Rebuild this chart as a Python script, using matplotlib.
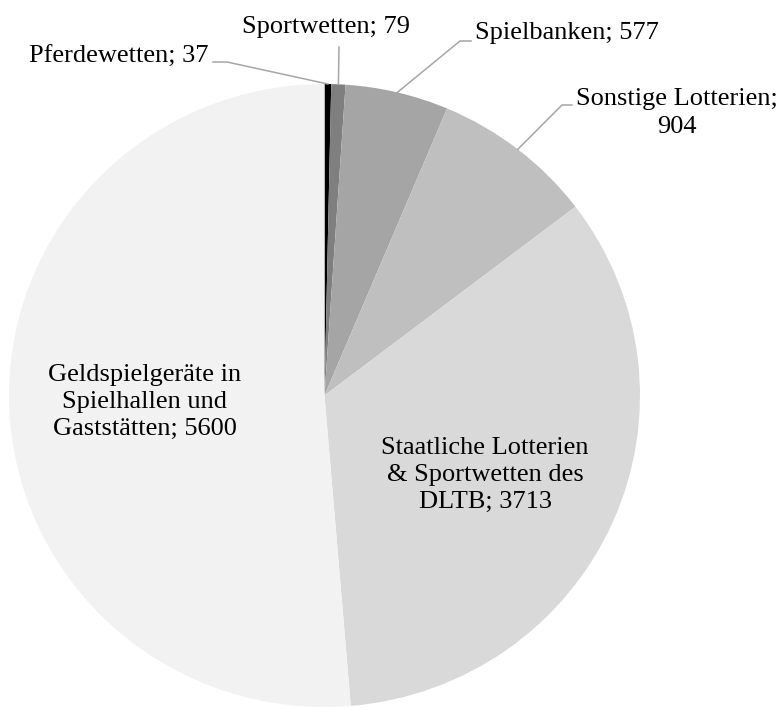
import numpy as np
import matplotlib.pyplot as plt

plt.rcParams['font.family'] = ['Liberation Serif', 'DejaVu Serif']

# Glücksspielmarkt, Bruttospielerträge
categories = ['Pferdewetten', 'Sportwetten', 'Spielbanken', 'Sonstige Lotterien',
              'Staatliche Lotterien\n& Sportwetten des\nDLTB', 'Geldspielgeräte in\nSpielhallen und\nGaststätten']
values = [37, 79, 577, 904, 3713, 5600]
colors = ['#000000', '#7f7f7f', '#a5a5a5', '#bfbfbf', '#d9d9d9', '#f2f2f2']

W, H = 781, 708
fig = plt.figure(figsize=(W / 100, H / 100), dpi=100)

# pie box in pixels (slightly wider than tall, as in the original)
cx, cy, rx, ry = 324.5, 395.5, 315.5, 311.5
ax = fig.add_axes([(cx - rx) / W, (H - cy - ry) / H, 2 * rx / W, 2 * ry / H])
ax.pie(values, colors=colors, startangle=90, counterclock=False,
       wedgeprops=dict(linewidth=0))
ax.set_aspect('auto')
ax.set_xlim(-1, 1)
ax.set_ylim(-1, 1)
ax.axis('off')


def px(x, y):
    # pixel (top-left origin) -> data coordinates
    return (x - cx) / rx, (cy - y) / ry


# mid-angle of each wedge (clockwise from 12 o'clock)
total = sum(values)
cum = np.cumsum([0] + values[:-1])
mid = [(c + v / 2) / total * 2 * np.pi for c, v in zip(cum, values)]
edge = [(np.sin(a), np.cos(a)) for a in mid]

fs = 19
ls = 1.3
lc = '#a6a6a6'

labels = [f'{c}; {v}' for c, v in zip(categories, values)]
labels[3] = f'{categories[3]};\n{values[3]}'

# outside labels with leader lines
outside = [
    (0, (118.5, 57), [(213, 62), (227, 62)]),
    (1, (325.5, 27), [(339, 47)]),
    (2, (566.5, 33), [(471, 41), (460, 41)]),
    (3, (677, 113), [(572, 105), (562, 105)]),
]
for i, pos, pts in outside:
    ax.text(*px(*pos), labels[i], ha='center', va='center', fontsize=fs,
            linespacing=ls)
    xs = [px(*p)[0] for p in pts] + [edge[i][0]]
    ys = [px(*p)[1] for p in pts] + [edge[i][1]]
    ax.plot(xs, ys, color=lc, lw=1.1, clip_on=False)

# inside labels
ax.text(*px(485, 475), labels[4], ha='center', va='center', fontsize=fs,
        linespacing=ls, multialignment='center')
ax.text(*px(145, 402), labels[5], ha='center', va='center', fontsize=fs,
        linespacing=ls, multialignment='center')

fig.savefig('out.png', dpi=100)
